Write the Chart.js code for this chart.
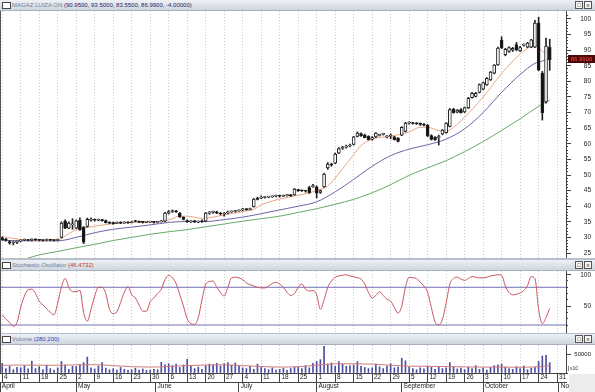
<!DOCTYPE html>
<html>
<head>
<meta charset="utf-8">
<title>MAGAZ LUIZA ON</title>
<script src="https://cdn.jsdelivr.net/npm/chart.js@4.4.1/dist/chart.umd.min.js"></script>
<style>
  body { margin: 0; background: #fff; font-family: 'Liberation Sans', Arial, sans-serif; }
  #wrap { position: relative; width: 595px; height: 392px; overflow: hidden; background: #fff; }
  .hdr { position: absolute; left: 0; width: 595px; height: 11px; box-sizing: border-box;
         background: linear-gradient(#eef1f5, #cfd6df); border-bottom: 1px solid #a9b2bf;
         font-size: 6px; line-height: 10px; white-space: nowrap; }
  .hdr .ico { position: absolute; left: 2px; top: 2px; width: 7px; height: 5px; border: 1px solid #444; background: #fff; }
  .hdr .txt { position: absolute; left: 12px; top: 0; }
  .nm { color: #6f7d98; }
  .btns { position: absolute; right: 3px; top: 1px; height: 8px; }
  .btn { float: left; width: 6px; height: 6px; margin-left: 1px; border: 1px solid #555; background: #f6f6f6;
         font-size: 6px; line-height: 6px; text-align: center; color: #222; }
  canvas { position: absolute; left: 0; }
  .sep { position: absolute; left: 0; width: 595px; background: #b7bfca; }
  #lastPrice { position: absolute; left: 568px; top: 55px; width: 27px; height: 8px; background: #4d0808;
               color: #ff4a4a; font-size: 6px; line-height: 8px; text-align: center; }
  #mult { position: absolute; left: 568px; top: 366px; font-size: 5px; line-height: 5px; color: #333;
          border-left: 1px solid #888; padding: 0 1px; }
  #corner { position: absolute; left: 569px; top: 374px; width: 26px; height: 18px; background: #ececec; }
  #edge { position: absolute; left: 0; top: 11px; width: 1px; height: 362px; background: #555; }
</style>
</head>
<body>
<div id="wrap">
  <div class="hdr" style="top:0">
    <span class="ico"></span>
    <span class="txt"><span class="nm">MAGAZ LUIZA ON</span> <span style="color:#1d2466">(90.9500, 93.5000, 83.5500, 86.9900, -4.00000)</span></span>
    <span class="btns"><span class="btn">&#9633;</span><span class="btn">x</span></span>
  </div>
  <canvas id="priceChart" width="595" height="247" style="top:11px"></canvas>
  <div class="sep" style="top:258px;height:2px"></div>
  <div class="hdr" style="top:260px">
    <span class="ico"></span>
    <span class="txt"><span class="nm">Stochastic Oscillator</span> <span style="color:#c0392b">(46.4732)</span></span>
    <span class="btns"><span class="btn">&#9633;</span><span class="btn">x</span></span>
  </div>
  <canvas id="stochChart" width="595" height="62" style="top:271px"></canvas>
  <div class="sep" style="top:333px;height:1px"></div>
  <div class="hdr" style="top:334px">
    <span class="ico"></span>
    <span class="txt"><span class="nm">Volume</span> <span style="color:#2a3fc0">(280,200)</span></span>
    <span class="btns"><span class="btn">&#9633;</span><span class="btn">x</span></span>
  </div>
  <canvas id="volChart" width="595" height="47" style="top:345px"></canvas>
  <div id="corner"></div>
  <div id="mult">x10</div>
  <div id="lastPrice">86.9900</div>
  <div id="edge"></div>
</div>
<script>
// --- Datos: índice = día hábil contado desde el lunes 4 de abril ---
const opens = [
  29.9, 29.3, 28.7, 28.2, 28.4, 28.8, 29.1, 29.2, 29.0, 29.3,
  29.2, 29.1, 29.0, 29.3, 29.1, 29.0, 30.0, 35.2, 33.0, 34.0,
  33.0, 35.5, 33.2, 33.5, 35.5, 35.6, 35.5, 35.6, 35.4, 34.7,
  34.6, 34.5, 34.8, 34.6, 34.9, 34.7, 35.4, 35.1, 34.9, 34.8,
  34.9, 35.0, 34.8, 35.0, 35.2, 37.8, 38.3, 38.4, 37.8, 36.4,
  35.4, 35.0, 35.3, 34.9, 35.3, 35.2, 37.8, 38.0, 38.2, 37.8,
  37.5, 37.8, 38.2, 38.3, 38.5, 38.8, 39.0, 38.9, 39.8, 42.6,
  42.6, 42.8, 42.9, 43.0, 43.2, 43.3, 43.2, 43.4, 43.5, 43.6,
  45.1, 45.0, 44.9, 46.0, 46.3, 46.2, 44.4, 46.2, 52.3, 53.4,
  53.8, 57.0, 58.6, 58.9, 59.3, 59.8, 62.4, 63.3, 62.8, 62.4,
  61.5, 62.2, 62.7, 63.0, 62.2, 62.5, 62.2, 61.8, 62.8, 64.0,
  66.6, 66.6, 66.5, 66.3, 66.1, 66.0, 62.6, 62.1, 62.0, 63.1,
  63.6, 65.6, 71.1, 70.1, 71.0, 70.2, 71.5, 74.8, 75.2, 76.5,
  77.5, 78.9, 80.5, 82.6, 85.3, 93.2, 88.6, 89.6, 90.0, 91.8,
  89.8, 91.6, 91.0, 91.0, 91.0, 98.7, 82.7, 73.4, 90.95
];
const highs = [
  30.2, 29.7, 29.0, 28.7, 28.8, 29.3, 29.5, 29.4, 29.6, 29.5,
  29.4, 29.3, 29.5, 29.4, 29.3, 29.5, 35.0, 35.6, 35.0, 36.0,
  35.6, 36.3, 33.5, 36.2, 36.3, 35.9, 35.9, 35.8, 35.6, 35.0,
  34.9, 35.0, 35.0, 35.1, 35.0, 35.2, 35.5, 35.2, 35.1, 35.1,
  35.2, 35.1, 35.2, 35.4, 38.0, 38.6, 38.8, 38.7, 38.0, 36.6,
  35.6, 35.4, 35.5, 35.3, 35.6, 38.0, 38.3, 38.4, 38.4, 38.0,
  38.0, 38.4, 38.5, 38.7, 38.8, 39.3, 39.2, 39.4, 42.5, 42.9,
  43.3, 43.1, 43.2, 43.3, 43.6, 43.5, 43.6, 43.7, 43.7, 45.7,
  45.4, 45.2, 45.1, 46.4, 47.0, 46.5, 45.2, 50.5, 54.0, 53.8,
  57.0, 58.8, 59.2, 59.6, 59.9, 62.4, 63.8, 63.5, 63.1, 62.6,
  62.3, 63.6, 63.1, 63.4, 62.6, 63.2, 62.4, 62.0, 65.5, 66.9,
  67.1, 66.9, 66.8, 66.7, 66.5, 66.2, 62.9, 62.3, 62.8, 64.6,
  66.8, 71.3, 71.4, 71.0, 71.3, 71.8, 74.9, 76.5, 76.5, 79.2,
  79.8, 81.2, 83.2, 85.4, 91.0, 94.3, 90.6, 91.1, 90.9, 92.5,
  91.2, 92.0, 92.5, 93.5, 99.6, 100.6, 83.2, 93.9, 93.5
];
const lows = [
  29.1, 28.8, 27.8, 27.6, 28.0, 28.6, 28.9, 28.9, 28.8, 29.0,
  28.9, 28.8, 28.9, 28.9, 28.8, 28.9, 29.8, 32.8, 32.8, 32.6,
  32.8, 32.2, 28.0, 33.3, 35.2, 35.2, 35.3, 35.2, 34.6, 34.4,
  34.2, 34.4, 34.4, 34.5, 34.5, 34.6, 35.0, 34.7, 34.6, 34.7,
  34.8, 34.6, 34.7, 34.9, 35.0, 37.5, 38.0, 38.0, 36.4, 35.6,
  34.8, 34.7, 34.8, 34.7, 34.8, 35.0, 37.4, 37.7, 37.6, 37.2,
  36.8, 37.6, 38.0, 38.1, 38.3, 38.5, 38.7, 38.8, 39.7, 42.0,
  42.4, 42.6, 42.7, 42.8, 43.0, 42.9, 43.1, 43.2, 43.1, 43.5,
  44.7, 44.7, 44.5, 44.1, 46.0, 42.6, 44.1, 46.0, 51.8, 52.8,
  53.6, 56.8, 58.2, 58.6, 59.0, 59.6, 62.2, 62.4, 61.9, 61.2,
  61.2, 62.0, 62.5, 62.8, 61.9, 61.6, 61.2, 60.6, 62.6, 63.8,
  66.3, 66.3, 66.2, 65.9, 65.7, 62.3, 61.2, 61.1, 59.6, 62.9,
  63.4, 65.4, 69.8, 69.9, 69.8, 70.0, 71.3, 74.6, 75.0, 76.3,
  77.3, 78.7, 80.3, 82.4, 85.1, 90.5, 88.2, 89.3, 89.6, 89.8,
  89.5, 91.3, 90.8, 90.8, 90.8, 83.4, 67.6, 73.0, 83.55
];
const closes = [
  29.3, 29.1, 28.2, 28.4, 28.6, 29.1, 29.3, 29.0, 29.4, 29.2,
  29.1, 29.0, 29.3, 29.1, 29.0, 29.3, 34.6, 33.0, 34.6, 34.2,
  35.3, 32.5, 28.5, 35.8, 35.7, 35.5, 35.7, 35.4, 34.7, 34.6,
  34.4, 34.8, 34.6, 34.9, 34.7, 35.0, 35.1, 34.9, 34.8, 34.9,
  35.0, 34.8, 35.0, 35.2, 37.8, 38.3, 38.4, 38.2, 36.6, 35.8,
  35.0, 35.2, 34.9, 35.1, 35.0, 37.8, 38.0, 38.2, 37.8, 37.5,
  37.6, 38.2, 38.3, 38.5, 38.6, 39.1, 38.9, 39.2, 42.3, 42.2,
  42.8, 42.9, 43.0, 43.1, 43.3, 43.2, 43.4, 43.5, 43.4, 45.5,
  45.0, 44.9, 44.8, 44.3, 46.5, 44.2, 45.0, 50.3, 53.5, 53.2,
  56.7, 58.5, 59.0, 59.3, 59.6, 62.2, 63.4, 62.6, 62.0, 61.3,
  62.0, 63.4, 62.8, 63.1, 62.3, 62.5, 61.3, 60.8, 65.3, 66.6,
  66.7, 66.5, 66.4, 66.2, 66.0, 62.5, 61.4, 61.3, 62.2, 64.4,
  66.6, 71.0, 70.0, 70.8, 70.0, 71.6, 74.6, 76.2, 76.2, 79.0,
  79.6, 81.0, 83.0, 85.2, 90.7, 90.8, 90.3, 90.8, 90.6, 90.1,
  90.8, 91.7, 92.3, 93.3, 98.7, 83.7, 70.0, 91.3, 86.99
];
const volumes = [
  26000, 12000, 18000, 9000, 15000, 14000, 20000, 11000, 32000, 12000,
  17000, 9000, 21000, 12000, 8000, 14000, 31000, 22000, 10000, 18000,
  18000, 23000, 28000, 43000, 14000, 11000, 19000, 28000, 13000, 9000,
  12000, 8000, 15000, 10000, 7000, 9000, 13000, 8000, 11000, 7000,
  8000, 10000, 9000, 29000, 22000, 25000, 20000, 24000, 15000, 22000,
  37000, 18000, 12000, 16000, 10000, 20000, 24000, 22000, 26000, 19000,
  25000, 28000, 21000, 27000, 18000, 14000, 12000, 18000, 10000, 24000,
  15000, 12000, 9000, 14000, 8000, 10000, 13000, 7000, 12000, 16000,
  15000, 12000, 20000, 14000, 26000, 31000, 36000, 72000, 24000, 27000,
  19000, 31000, 24000, 18000, 20000, 22000, 31000, 18000, 15000, 12000,
  14000, 24000, 17000, 12000, 19000, 25000, 14000, 16000, 40000, 33000,
  16000, 12000, 9000, 14000, 11000, 19000, 15000, 10000, 17000, 12000,
  14000, 28000, 17000, 11000, 13000, 9000, 16000, 12000, 20000, 10000,
  13000, 8000, 15000, 20000, 22000, 24000, 16000, 12000, 10000, 17000,
  12000, 19000, 9000, 13000, 15000, 31000, 46000, 48000, 28000
];
const stochK = [
  36, 30, 24, 18, 24, 48, 66, 76, 77, 70,
  58, 52, 46, 40, 36, 55, 80, 94, 80, 73,
  73, 75, 40, 26, 45, 66, 80, 80, 70, 45,
  38, 41, 56, 72, 81, 68, 63, 52, 42, 42,
  57, 63, 70, 77, 92, 99, 95, 86, 68, 50,
  30, 22, 21, 32, 60, 85, 89, 90, 80, 72,
  66, 80, 95, 96, 95, 92, 87, 84, 82, 80,
  79, 79, 82, 86, 88, 85, 80, 72, 67, 70,
  80, 85, 77, 74, 75, 68, 45, 60, 80, 90,
  96, 98, 99, 100, 98, 97, 95, 93, 85, 72,
  63, 67, 73, 67, 61, 58, 48, 39, 50, 80,
  96, 95, 94, 88, 82, 72, 48, 25, 20, 29,
  55, 85, 94, 96, 93, 91, 94, 97, 96, 95,
  95, 96, 98, 99, 100, 99, 82, 72, 68, 69,
  71, 75, 83, 97, 94, 45, 22, 32, 46.47
];
const stochLevels = [20, 80];

// Medias móviles (día, valor)
const fastMaDays = [0, 5, 10, 15, 18, 20, 22, 25, 30, 35, 40, 45, 48, 50, 54, 60, 65, 68, 70, 75, 80, 83, 85, 88, 90, 92, 95, 97, 100, 105, 110, 113, 115, 118, 120, 122, 125, 130, 135, 140, 143, 144, 145, 146, 147, 148];
const fastMa = [30.3, 29.3, 29.1, 29.2, 31.2, 32.5, 33.0, 33.6, 34.4, 34.8, 34.9, 35.6, 36.8, 36.8, 36.1, 37.2, 38.3, 39.0, 40.4, 42.3, 43.5, 44.3, 45.0, 46.5, 49.0, 52.0, 56.5, 59.5, 61.5, 62.4, 63.8, 65.3, 65.3, 64.2, 64.0, 65.3, 68.5, 75.0, 82.5, 88.8, 91.2, 91.6, 91.0, 89.6, 89.3, 89.8];
const midMaDays = [0, 10, 15, 20, 25, 30, 35, 40, 45, 50, 55, 60, 65, 70, 75, 80, 85, 90, 95, 100, 105, 110, 115, 120, 125, 130, 135, 140, 144, 146, 148];
const midMa = [29.0, 28.9, 28.9, 30.0, 31.5, 32.6, 33.3, 34.0, 34.8, 35.1, 35.1, 35.7, 36.5, 37.6, 38.8, 40.0, 41.4, 44.6, 48.6, 52.8, 56.2, 58.3, 59.7, 61.5, 64.8, 70.0, 76.5, 82.2, 85.8, 86.5, 87.4];
const slowMaDays = [6, 10, 15, 20, 25, 30, 35, 40, 45, 50, 55, 60, 65, 70, 75, 80, 85, 90, 95, 100, 105, 110, 115, 120, 125, 130, 135, 140, 145, 148];
const slowMa = [23.0, 24.4, 25.5, 26.7, 27.8, 29.0, 30.0, 31.0, 31.8, 32.5, 33.4, 34.3, 35.2, 36.0, 36.8, 38.0, 39.2, 40.6, 42.2, 44.3, 46.9, 49.9, 52.3, 54.6, 57.5, 60.7, 64.3, 68.0, 72.0, 74.0];
const volMaDays = [0, 5, 10, 15, 20, 25, 30, 35, 40, 45, 50, 55, 60, 65, 70, 75, 80, 85, 90, 95, 100, 105, 110, 115, 120, 125, 130, 135, 140, 145, 148];
const volMa = [21000, 21500, 21000, 21000, 22000, 22500, 20000, 17000, 16000, 17500, 20000, 21500, 22000, 20000, 17500, 16000, 17000, 21000, 25000, 25000, 24000, 21000, 18500, 18000, 17500, 16500, 16000, 16000, 15500, 17000, 20000];

// Etiquetas del eje de fechas (lunes de cada semana y comienzo de cada mes)
const weekStarts = [0, 5, 10, 15, 20, 25, 30, 35, 40, 45, 50, 55, 60, 65, 70, 75, 80, 85, 90, 95, 100, 105, 110, 115, 120, 125, 130, 135, 140, 145, 150];
const weekLabels = ['4', '11', '18', '25', '2', '9', '16', '23', '30', '6', '13', '20', '27', '4', '11', '18', '25', '1', '8', '15', '22', '29', '5', '12', '19', '26', '3', '10', '17', '24', '31'];
const monthStarts = [-0.6, 20, 41.5, 64, 85, 108, 130, 150.5];
const monthLabels = ['April', 'May', 'June', 'July', 'August', 'September', 'October', 'Nov'];
const priceTicks = [25, 30, 35, 40, 45, 50, 55, 60, 65, 70, 75, 80, 85, 90, 95, 100];
const stochTicks = [50, 100];
const volTicks = [50000];

// --- Utilidades ---
const X_MIN = -0.6, X_MAX = 152.4;
const GRID = '#cdcdcd';
const AXIS = '#444';

Chart.defaults.font.family = "'Liberation Sans', Arial, sans-serif";
Chart.defaults.font.size = 6.5;
Chart.defaults.color = '#222';

function toPoints(days, values) {
    return days.map((d, i) => ({ x: d, y: values[i] }));
}

function noPadding(s) {
    s.paddingLeft = 0; s.paddingRight = 0; s.paddingTop = 0; s.paddingBottom = 0;
}

// Eje X sin etiquetas, solo la rejilla semanal punteada
function gridOnlyX() {
    return {
        type: 'linear', min: X_MIN, max: X_MAX, offset: false,
        afterBuildTicks: s => { s.ticks = weekStarts.map(v => ({ value: v })); },
        afterFit: s => { s.height = 0; noPadding(s); },
        ticks: { display: false },
        grid: { color: GRID, drawTicks: false, offset: false },
        border: { display: false, dash: [1, 2] }
    };
}

// Eje derecho: marcas menores + marcas mayores con etiqueta
function rightScales(min, max, minorStep, majorTicks, pad) {
    return {
        yMinor: {
            type: 'linear', position: 'right', weight: 0, min: min, max: max, beginAtZero: false,
            ticks: { display: false, stepSize: minorStep },
            afterBuildTicks: s => {
                s.ticks = s.ticks.filter(t => Math.abs(t.value / minorStep - Math.round(t.value / minorStep)) < 1e-6);
            },
            afterFit: s => { s.width = 0; noPadding(s); },
            grid: { drawOnChartArea: false, tickLength: 2, tickColor: AXIS },
            border: { display: false }
        },
        y: {
            type: 'linear', position: 'right', weight: 1, min: min, max: max, beginAtZero: false,
            afterBuildTicks: s => { s.ticks = majorTicks.map(v => ({ value: v })); },
            afterFit: s => { s.width = 25; noPadding(s); },
            ticks: { padding: pad, crossAlign: 'far', color: '#222', callback: v => String(v) },
            grid: { drawOnChartArea: false, tickLength: 5, tickColor: AXIS },
            border: { display: true, color: AXIS }
        }
    };
}

function lineSet(points, color, order) {
    return {
        type: 'line', data: points, order: order, borderColor: color, borderWidth: 1,
        pointRadius: 0, fill: false, cubicInterpolationMode: 'monotone'
    };
}

const baseOptions = {
    responsive: false, animation: false, devicePixelRatio: 1,
    layout: { padding: { right: 4 } },
    plugins: { legend: { display: false }, tooltip: { enabled: false } }
};

const dayIdx = closes.map((_, i) => i);

// --- Precio: velas + medias móviles ---
new Chart(document.getElementById('priceChart'), {
    type: 'bar',
    data: {
        datasets: [
            {
                label: 'Cuerpo', order: 0, grouped: false,
                data: dayIdx.map(i => ({ x: i, y: [opens[i], closes[i]] })),
                backgroundColor: c => closes[c.dataIndex] >= opens[c.dataIndex] ? '#ffffff' : '#111111',
                borderColor: '#222', borderWidth: 1, borderSkipped: false, barThickness: 3, minBarLength: 1
            },
            {
                label: 'Mecha', order: 1, grouped: false,
                data: dayIdx.map(i => ({ x: i, y: [lows[i], highs[i]] })),
                backgroundColor: '#222', borderWidth: 0, barThickness: 1
            },
            lineSet(toPoints(fastMaDays, fastMa), '#e9a682', 2),
            lineSet(toPoints(midMaDays, midMa), '#6e62a4', 3),
            lineSet(toPoints(slowMaDays, slowMa), '#68a868', 4)
        ]
    },
    options: Object.assign({}, baseOptions, {
        scales: Object.assign({ x: gridOnlyX() }, rightScales(23.4, 102.56, 1, priceTicks, 9))
    })
});

// --- Oscilador estocástico ---
new Chart(document.getElementById('stochChart'), {
    type: 'line',
    data: {
        datasets: [
            lineSet(dayIdx.map(i => ({ x: i, y: stochK[i] })), '#c9555e', 0),
            ...stochLevels.map(v => lineSet([{ x: X_MIN, y: v }, { x: X_MAX, y: v }], '#7571b5', 1))
        ]
    },
    options: Object.assign({}, baseOptions, {
        scales: Object.assign({ x: gridOnlyX() }, rightScales(7.3, 105.9, 10, stochTicks, 5))
    })
});

// --- Volumen + eje de fechas ---
const volScales = rightScales(0, 75700, 10000, volTicks, -1);
volScales.y.ticks.font = { size: 6 };
new Chart(document.getElementById('volChart'), {
    type: 'bar',
    data: {
        datasets: [
            {
                label: 'Volumen', order: 1, grouped: false,
                data: dayIdx.map(i => ({ x: i, y: volumes[i] })),
                backgroundColor: '#4d4da0', borderWidth: 0, barThickness: 1
            },
            lineSet(toPoints(volMaDays, volMa), '#d27a7a', 0)
        ]
    },
    options: Object.assign({}, baseOptions, {
        scales: Object.assign({
            x: {
                type: 'linear', position: 'bottom', weight: 0, min: X_MIN, max: X_MAX, offset: false,
                afterBuildTicks: s => { s.ticks = weekStarts.map(v => ({ value: v })); },
                afterFit: s => { s.height = 9; noPadding(s); },
                ticks: {
                    autoSkip: false, maxRotation: 0, minRotation: 0, align: 'start', padding: -9, color: '#222',
                    callback: (v, i) => ' ' + weekLabels[i]
                },
                grid: { color: GRID, tickLength: 9, tickColor: AXIS, offset: false },
                border: { display: true, color: AXIS, dash: [1, 2] }
            },
            xm: {
                type: 'linear', position: 'bottom', weight: 1, min: X_MIN, max: X_MAX, offset: false,
                afterBuildTicks: s => { s.ticks = monthStarts.map(v => ({ value: v })); },
                afterFit: s => { s.height = 10; noPadding(s); },
                ticks: {
                    autoSkip: false, maxRotation: 0, minRotation: 0, align: 'start', padding: -10, color: '#222',
                    callback: (v, i) => ' ' + monthLabels[i]
                },
                grid: { drawOnChartArea: false, tickLength: 10, tickColor: AXIS, offset: false },
                border: { display: true, color: AXIS }
            }
        }, volScales)
    })
});
</script>
</body>
</html>
